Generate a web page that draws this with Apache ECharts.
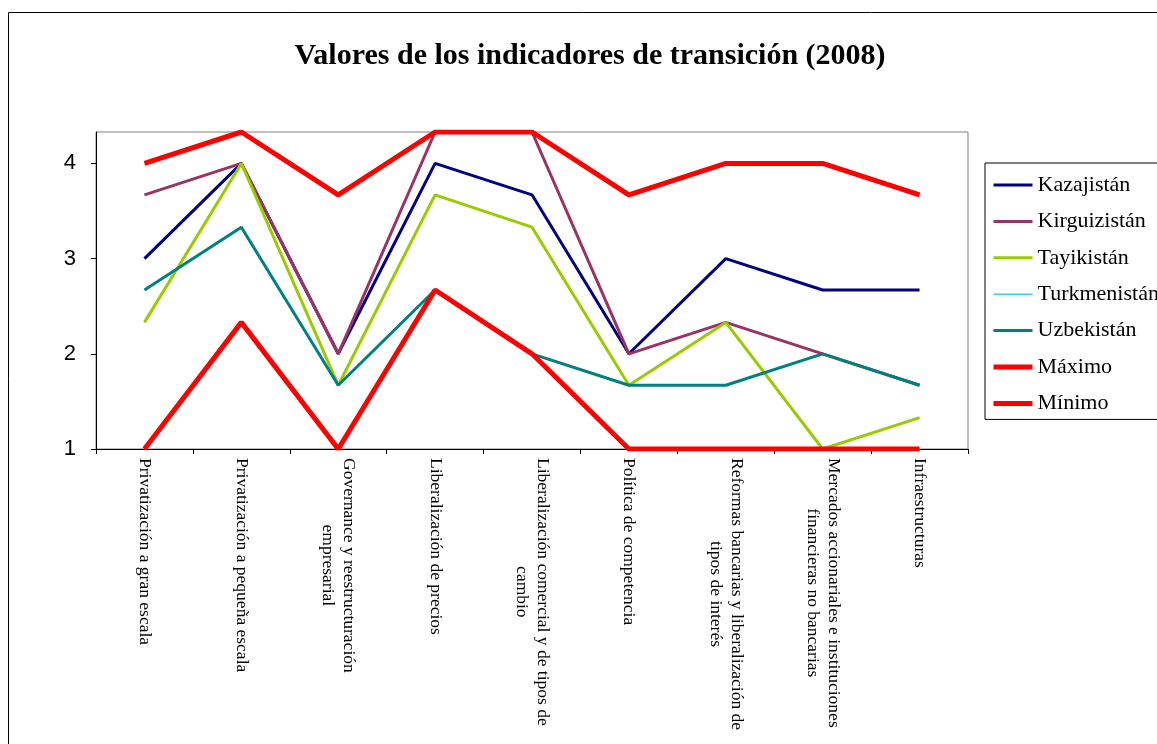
<!DOCTYPE html>
<html>
<head>
<meta charset="utf-8">
<script src="https://cdn.jsdelivr.net/npm/echarts@6/dist/echarts.min.js"></script>
<style>
  html, body { margin: 0; padding: 0; background: #fff; }
  #chart { width: 1157px; height: 744px; }
</style>
</head>
<body>
<div id="chart"></div>
<script>
// indicadores de transición, escala 1 - 4.33
const categories = [
  'Privatización a gran escala',
  'Privatización a pequeña escala',
  'Governance y reestructuración\nempresarial',
  'Liberalización de precios',
  'Liberalización comercial y de tipos de\ncambio',
  'Política de competencia',
  'Reformas bancarias y liberalización de\ntipos de interés',
  'Mercados accionariales e instituciones\nfinancieras no bancarias',
  'Infraestructuras'
]
const kazajistan   = [3, 4, 2, 4, 3.67, 2, 3, 2.67, 2.67]
const kirguizistan = [3.67, 4, 2, 4.33, 4.33, 2, 2.33, 2, 1.67]
const tayikistan   = [2.33, 4, 1.67, 3.67, 3.33, 1.67, 2.33, 1, 1.33]
const turkmenistan = [1, 2.33, 1, 2.67, 2, 1, 1, 1, 1]
const uzbekistan   = [2.67, 3.33, 1.67, 2.67, 2, 1.67, 1.67, 2, 1.67]
const maximo       = [4, 4.33, 3.67, 4.33, 4.33, 3.67, 4, 4, 3.67]
const minimo       = [1, 2.33, 1, 2.67, 2, 1, 1, 1, 1]

const serif = '"Liberation Serif", "Times New Roman", serif'
const sans = '"Liberation Sans", Arial, sans-serif'

const chart = echarts.init(document.getElementById('chart'))

function line(name, data, color, width) {
  return {
    name: name,
    type: 'line',
    data: data,
    symbol: 'none',
    animation: false,
    lineStyle: { color: color, width: width },
    itemStyle: { color: color }
  }
}

const option = {
  backgroundColor: '#fff',
  title: {
    text: 'Valores de los indicadores de transición (2008)',
    left: 590,
    top: 41,
    padding: 0,
    textAlign: 'center',
    textStyle: { fontFamily: serif, fontSize: 30, fontWeight: 'bold', color: '#000' }
  },
  graphic: [{
    type: 'rect',
    shape: { x: 8.5, y: 12.5, width: 1300, height: 900 },
    style: { fill: 'none', stroke: '#000', lineWidth: 1 },
    silent: true
  }],
  legend: {
    orient: 'vertical',
    left: 985,
    top: 163,
    padding: [11, 10, 5, 6],
    itemGap: 14.4,
    itemWidth: 39,
    itemHeight: 14,
    itemTextGap: 4,
    borderColor: '#000',
    borderWidth: 1,
    itemStyle: { opacity: 0 },
    lineStyle: { width: 'inherit' },
    textStyle: { fontFamily: serif, fontSize: 22, color: '#000' }
  },
  grid: {
    left: 96,
    top: 132,
    width: 872,
    height: 317,
    show: true,
    borderColor: '#808080',
    borderWidth: 1,
    backgroundColor: '#fff'
  },
  xAxis: {
    type: 'category',
    data: categories,
    boundaryGap: true,
    axisLine: { lineStyle: { color: '#000', width: 1 } },
    axisTick: { show: true, length: 5, lineStyle: { color: '#000' } },
    axisLabel: {
      interval: 0,
      rotate: -90,
      margin: 9,
      color: '#000',
      formatter: v => v.split('\n').map(s => '{c|' + s + '}').join('\n'),
      rich: {
        c: { align: 'center', fontFamily: serif, fontSize: 17.5, lineHeight: 21, color: '#000' }
      }
    }
  },
  yAxis: {
    type: 'value',
    min: 1,
    max: 4.33,
    interval: 1,
    axisLine: { show: true, lineStyle: { color: '#000', width: 1 } },
    axisTick: { show: true, length: 5, lineStyle: { color: '#000' } },
    splitLine: { show: false },
    axisLabel: {
      showMaxLabel: false,
      margin: 20,
      color: '#000',
      fontFamily: sans,
      fontSize: 22
    }
  },
  series: [
    line('Kazajistán', kazajistan, '#000080', 3),
    line('Kirguizistán', kirguizistan, '#993366', 3),
    line('Tayikistán', tayikistan, '#99CC00', 3),
    line('Turkmenistán', turkmenistan, '#33CCFF', 1.5),
    line('Uzbekistán', uzbekistan, '#008080', 3),
    line('Máximo', maximo, '#FF0000', 5),
    line('Mínimo', minimo, '#FF0000', 5)
  ]
}

chart.setOption(option)
</script>
</body>
</html>
